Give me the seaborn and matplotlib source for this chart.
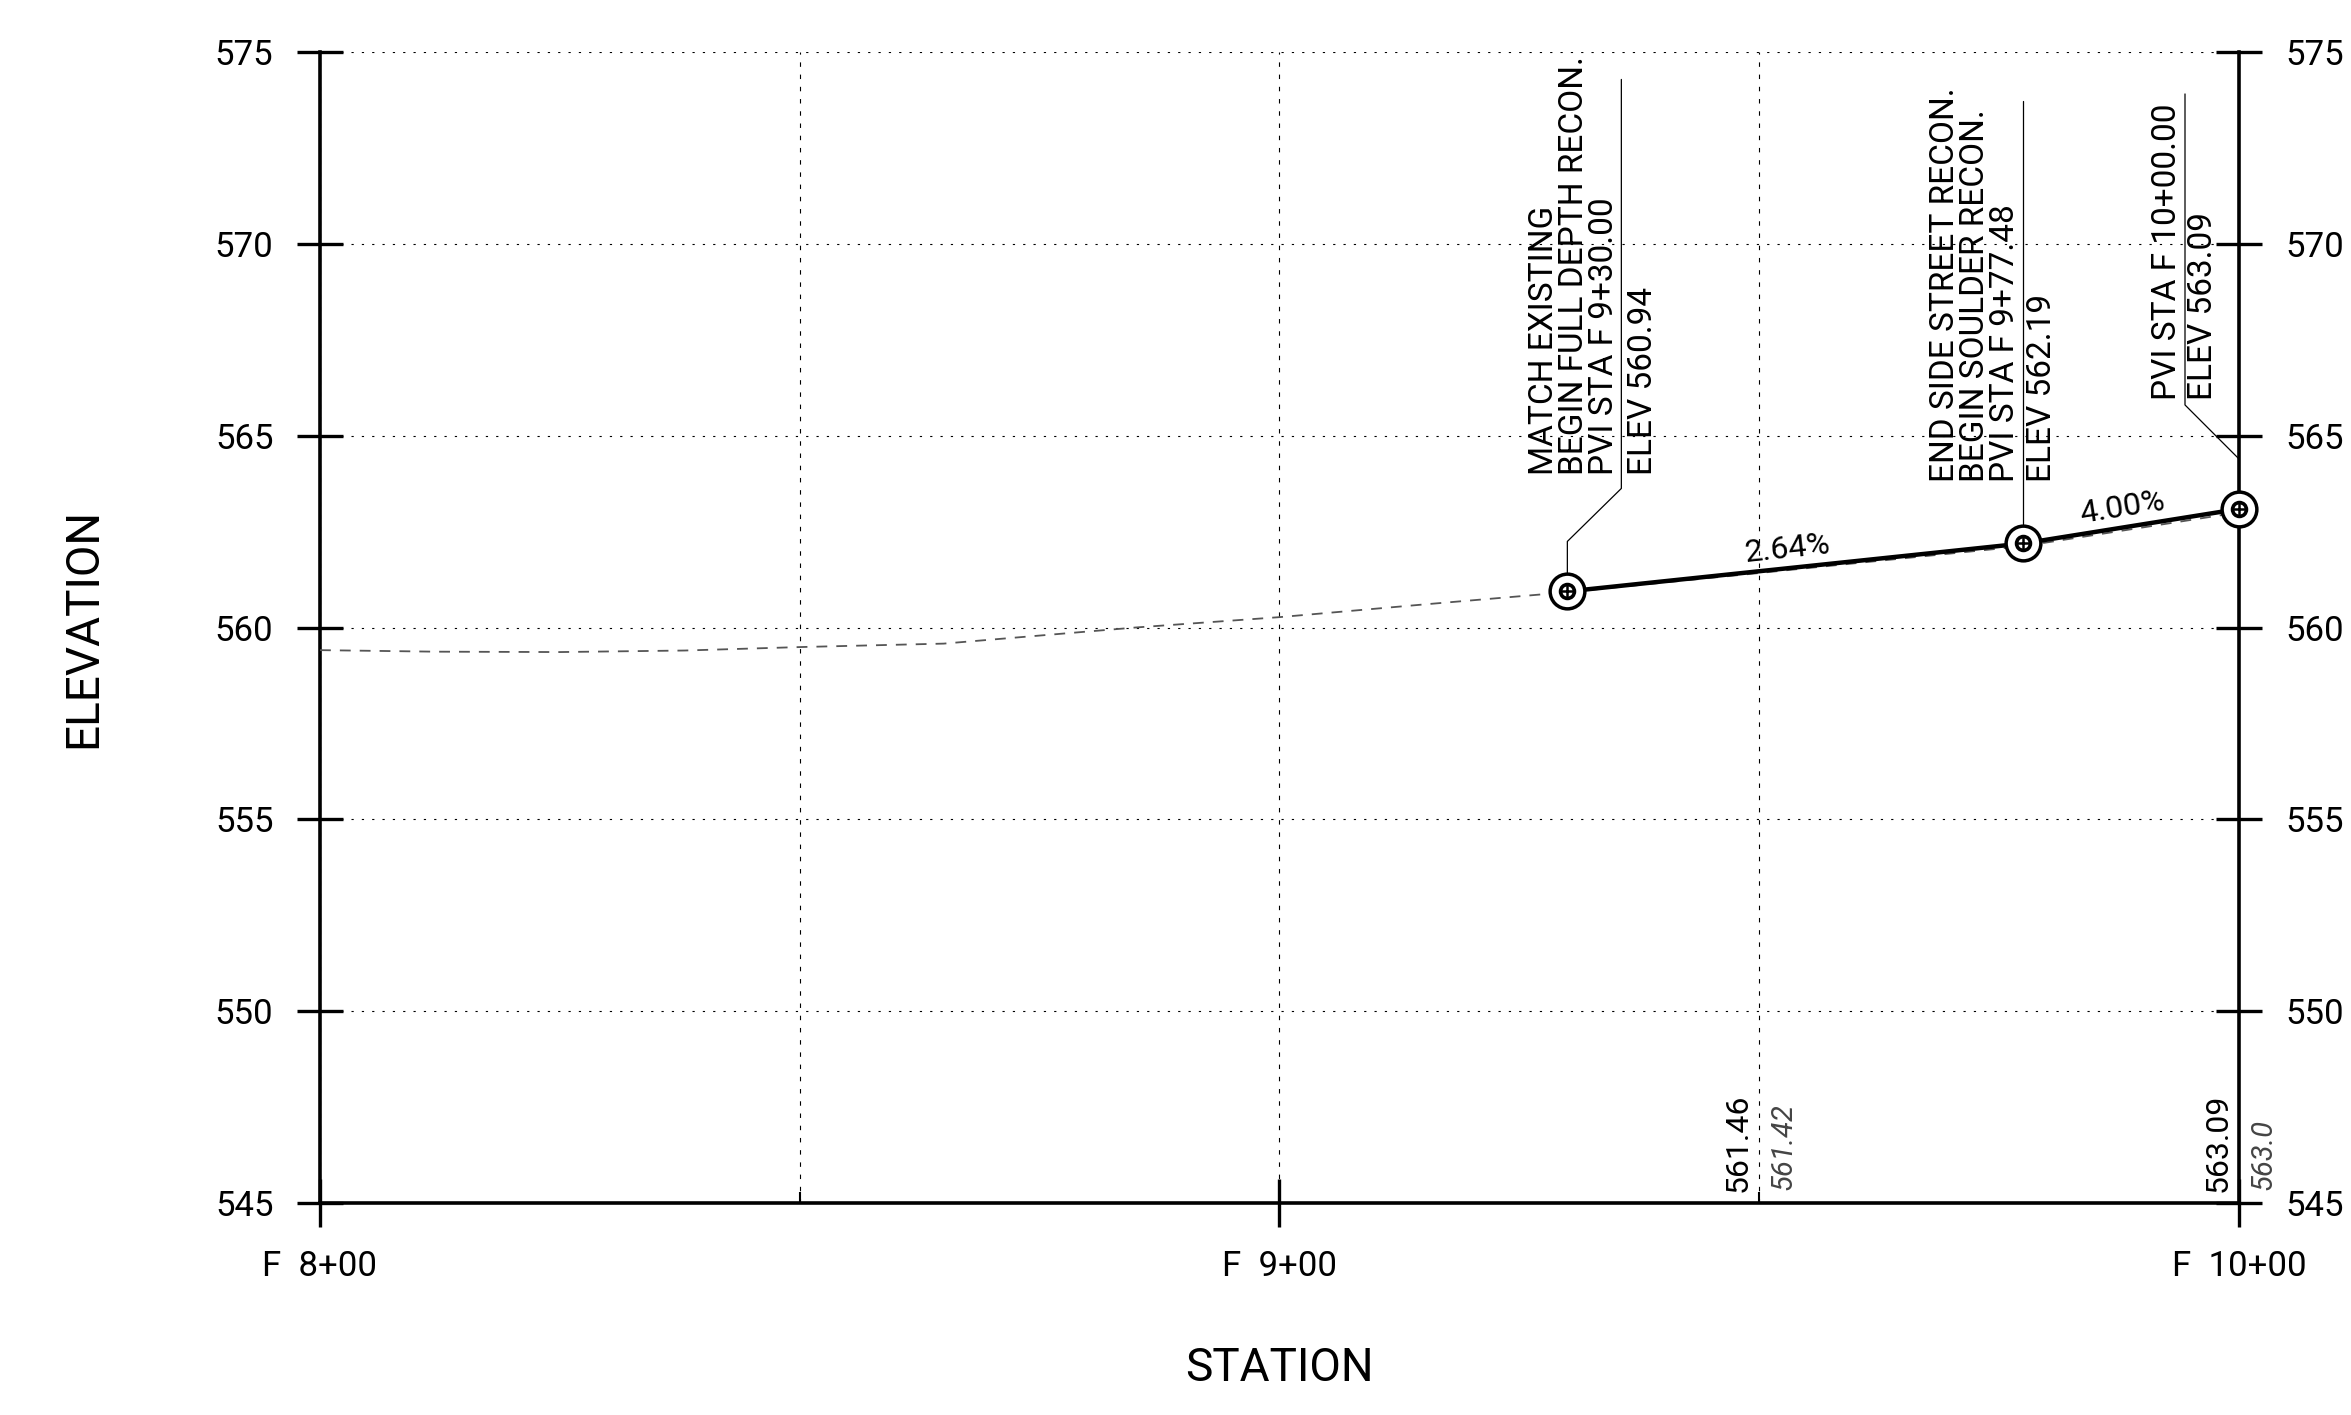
"""
Profile view - F line, 8+00 to 10+00
Proposed grade vs existing ground, drawn the way the plan sheet shows it.
"""
import numpy as np
import matplotlib
matplotlib.use("Agg")
import matplotlib.pyplot as plt
import seaborn as sns

# proposed profile (PVIs)
pvi_station = [930.00, 977.48, 1000.00]
pvi_elev = [560.94, 562.19, 563.09]
grade_labels = ["2.64%", "4.00%"]

# existing ground
ex_station = [800, 812, 825, 838, 850, 865, 885, 900, 915, 930, 950, 977.48, 1000]
ex_elev = [559.41, 559.37, 559.36, 559.40, 559.49, 559.58, 560.00, 560.27, 560.60, 560.92, 561.42, 562.12, 563.00]

# elevations printed along the bottom (proposed / existing)
label_station = [950, 1000]
label_prop = ["561.46", "563.09"]
label_exist = ["561.42", "563.0"]

# PVI notes
pvi_notes = [
    "MATCH EXISTING\nBEGIN FULL DEPTH RECON.\nPVI STA F 9+30.00",
    "END SIDE STREET RECON.\nBEGIN SOULDER RECON.\nPVI STA F 9+77.48",
    "PVI STA F 10+00.00",
]
pvi_elev_notes = ["ELEV 560.94", "ELEV 562.19", "ELEV 563.09"]

# axes
station_ticks = [800, 900, 1000]
station_tick_labels = ["F  8+00", "F  9+00", "F  10+00"]
station_minor = [850, 950]
elev_ticks = [545, 550, 555, 560, 565, 570, 575]

sns.set_style("white")
plt.rcParams["font.family"] = ["Roboto", "DejaVu Sans"]
plt.rcParams["text.color"] = "black"
plt.rcParams["axes.labelcolor"] = "black"
plt.rcParams["xtick.color"] = "black"
plt.rcParams["ytick.color"] = "black"

fig = plt.figure(figsize=(23.51, 14.15), dpi=100)
ax = fig.add_axes([0.13611, 0.14982, 0.81625, 0.81343])
ax.set_xlim(800, 1000)
ax.set_ylim(545, 575)

# existing ground
sns.lineplot(x=ex_station, y=ex_elev, ax=ax, color="#555555", linewidth=1.3,
             linestyle=(0, (6, 5)), zorder=3)

# proposed grade + PVI circles
sns.lineplot(x=pvi_station, y=pvi_elev, ax=ax, color="black", linewidth=3.2,
             marker="o", markersize=25, markerfacecolor="white",
             markeredgecolor="black", markeredgewidth=2.5, zorder=5, clip_on=False)
ax.plot(pvi_station, pvi_elev, linestyle="none", marker="o", markersize=10,
        markerfacecolor="none", markeredgecolor="black", markeredgewidth=2.6,
        zorder=6, clip_on=False)
ax.plot(pvi_station, pvi_elev, linestyle="none", marker="+", markersize=10,
        markeredgecolor="black", markeredgewidth=1.8, zorder=7, clip_on=False)

# ticks / spines
ax.set_xticks(station_ticks)
ax.set_xticklabels(station_tick_labels)
ax.set_xticks(station_minor, minor=True)
ax.set_yticks(elev_ticks)
ax.tick_params(axis="y", which="major", direction="inout", length=33, width=2.4,
               left=True, right=True, labelleft=True, labelright=True,
               labelsize=25, pad=17)
ax.tick_params(axis="x", which="major", direction="inout", length=34, width=2.4,
               bottom=True, labelsize=25, pad=16.5)
ax.tick_params(axis="x", which="minor", direction="in", length=8, width=1.5, bottom=True)
for side in ["left", "right", "bottom"]:
    ax.spines[side].set_linewidth(2.6)
    ax.spines[side].set_color("black")
ax.spines["top"].set_visible(False)

ax.xaxis.grid(True, which="both", color="black", linewidth=0.8, linestyle=(0, (4, 7)))
ax.yaxis.grid(True, which="major", color="black", linewidth=0.8, linestyle=(0, (2, 7.3)))
ax.set_axisbelow(True)

ax.set_xlabel("STATION", fontsize=33)
ax.set_ylabel("ELEVATION", fontsize=33)
ax.xaxis.set_label_coords(0.5, -0.124)
ax.yaxis.set_label_coords(-0.112, 0.5)


def to_data(sta, elev, offsets):
    x0, y0 = ax.transData.transform((sta, elev))
    pts = [(x0 + dx, y0 + dy) for dx, dy in offsets]
    return ax.transData.inverted().transform(pts)


# grade labels along each segment
for i, lab in enumerate(grade_labels):
    s0, s1 = pvi_station[i], pvi_station[i + 1]
    e0, e1 = pvi_elev[i], pvi_elev[i + 1]
    p0 = ax.transData.transform((s0, e0))
    p1 = ax.transData.transform((s1, e1))
    ang = np.degrees(np.arctan2(p1[1] - p0[1], p1[0] - p0[0]))
    ax.annotate(lab, xy=((s0 + s1) / 2, (e0 + e1) / 2), xytext=(-6, 4),
                textcoords="offset pixels", ha="center", va="bottom",
                rotation=ang, rotation_mode="anchor", fontsize=23, zorder=8)

# PVI notes with leader lines (offsets in pixels from the PVI)
note_dx = [7, -48, -72]
elev_dx = [76, 19, -36]
note_dy = [116, 61, 109]
leaders = [
    [(0, 18), (0, 50), (54, 103), (54, 512)],
    [(0, 18), (0, 442)],
    [(0, 18), (0, 50), (-54, 104), (-54, 415)],
]
for i in range(3):
    ax.annotate(pvi_notes[i], xy=(pvi_station[i], pvi_elev[i]),
                xytext=(note_dx[i], note_dy[i]), textcoords="offset pixels",
                rotation=90, ha="center", va="bottom", multialignment="left",
                linespacing=0.92, fontsize=24, annotation_clip=False, zorder=8)
    ax.annotate(pvi_elev_notes[i], xy=(pvi_station[i], pvi_elev[i]),
                xytext=(elev_dx[i], note_dy[i]), textcoords="offset pixels",
                rotation=90, ha="center", va="bottom", fontsize=24,
                annotation_clip=False, zorder=8)
    pts = to_data(pvi_station[i], pvi_elev[i], leaders[i])
    ax.plot(pts[:, 0], pts[:, 1], color="black", linewidth=0.9, zorder=4, clip_on=False)

# elevations along the bottom
for sta, prop, ex in zip(label_station, label_prop, label_exist):
    ax.annotate(prop, xy=(sta, 545), xytext=(-21, 11), textcoords="offset pixels",
                rotation=90, ha="center", va="bottom", fontsize=23,
                annotation_clip=False, zorder=8)
    ax.annotate(ex, xy=(sta, 545), xytext=(24, 13), textcoords="offset pixels",
                rotation=90, ha="center", va="bottom", fontsize=21, fontstyle="italic",
                color="#444444", annotation_clip=False, zorder=8)

plt.savefig("out.png", dpi=100)
